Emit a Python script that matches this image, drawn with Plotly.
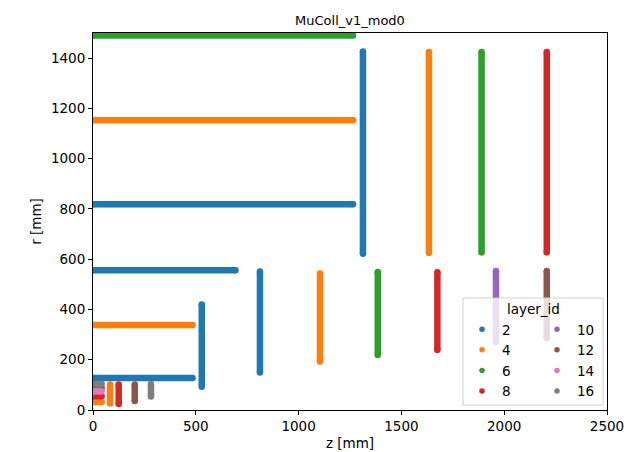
import plotly.graph_objects as go

# Hit positions per tracker layer, grouped by layer_id.
LAYER_IDS = [2, 4, 6, 8, 10, 12, 14, 16]
COLORS = ["#1f77b4", "#ff7f0e", "#2ca02c", "#d62728",
          "#9467bd", "#8c564b", "#e377c2", "#7f7f7f"]

# Barrel layers: hits at constant r, spread from z = 0 to z_max
BARREL_R = {2: [127, 556, 819], 4: [32, 338, 1153], 6: [1490], 8: [55],
            10: [], 12: [88], 14: [74], 16: [103]}
BARREL_ZMAX = {2: [484, 693, 1265], 4: [42, 484, 1265], 6: [1265], 8: [42],
               10: [], 12: [42], 14: [42], 16: [42]}

# Endcap disks: hits at constant z, spread from r_min to r_max
DISK_Z = {2: [529, 812, 1313], 4: [83, 1104, 1634], 6: [1385, 1890],
          8: [125, 1675, 2207], 10: [1960], 12: [203, 2207], 14: [], 16: [282]}
DISK_RMIN = {2: [93, 149, 622], 4: [26, 193, 625], 6: [219, 627],
             8: [24, 239, 627], 10: [272], 12: [36, 286], 14: [], 16: [54]}
DISK_RMAX = {2: [420, 551, 1426], 4: [101, 543, 1424], 6: [549, 1424],
             8: [101, 548, 1424], 10: [553], 12: [101, 553], 14: [], 16: [103]}

X_TICKS = [0, 500, 1000, 1500, 2000, 2500]
Y_TICKS = [0, 200, 400, 600, 800, 1000, 1200, 1400]

FONT = "DejaVu Sans"
W, H = 630, 452
L, R, T, B = 93, 23, 33, 42
PW, PH = W - L - R, H - T - B

fig = go.Figure()

for lid, col in zip(LAYER_IDS, COLORS):
    xs, ys = [], []
    for r, zmax in zip(BARREL_R[lid], BARREL_ZMAX[lid]):
        xs += [0, zmax, None]
        ys += [r, r, None]
    for z, rmin, rmax in zip(DISK_Z[lid], DISK_RMIN[lid], DISK_RMAX[lid]):
        xs += [z, z, None]
        ys += [rmin, rmax, None]
    fig.add_trace(go.Scatter(
        x=xs, y=ys, mode="lines+markers", connectgaps=False,
        line=dict(color=col, width=6.5),
        marker=dict(color=col, size=6.5),
        showlegend=False, hoverinfo="skip",
    ))

# legend entries: two columns of four
for i, (lid, col) in enumerate(zip(LAYER_IDS, COLORS)):
    fig.add_trace(go.Scatter(
        x=[None], y=[None], mode="markers", name=str(lid),
        marker=dict(color=col, size=5.5),
        legend="legend" if i < 4 else "legend2",
    ))


def px_x(p):
    return (p - L) / PW


def px_y(p):
    return (H - B - p) / PH


legend_common = dict(
    bgcolor="rgba(0,0,0,0)", borderwidth=0,
    font=dict(family=FONT, size=13.5, color="black"),
    xanchor="left", yanchor="top", tracegroupgap=0, itemwidth=30,
)

axis_common = dict(
    showgrid=False, zeroline=False, automargin=False,
    showline=True, linecolor="black", linewidth=1, mirror=True,
    ticks="outside", ticklen=4, tickwidth=1, tickcolor="black",
    tickfont=dict(family=FONT, size=13.5, color="black"),
)

fig.update_layout(
    width=W, height=H,
    margin=dict(l=L, r=R, t=T, b=B),
    paper_bgcolor="white", plot_bgcolor="white",
    font=dict(family=FONT, size=13.5, color="black"),
    title=dict(text="MuColl_v1_mod0", x=(L + PW / 2) / W, xanchor="center",
               y=1 - 20 / H, yanchor="middle",
               font=dict(family=FONT, size=13, color="black")),
    xaxis=dict(range=[0, 2500], tickvals=X_TICKS,
               title=dict(text="z [mm]", standoff=5,
                          font=dict(family=FONT, size=13.5)),
               **axis_common),
    yaxis=dict(range=[0, 1500], tickvals=Y_TICKS,
               title=dict(text="r [mm]", standoff=6,
                          font=dict(family=FONT, size=13.5)),
               **axis_common),
    legend=dict(x=px_x(462), y=px_y(314), **legend_common),
    legend2=dict(x=px_x(537), y=px_y(314), **legend_common),
)

# legend frame and title
fig.add_shape(type="rect", xref="paper", yref="paper", layer="above",
              x0=px_x(463), x1=px_x(603), y0=px_y(405), y1=px_y(298),
              fillcolor="rgba(255,255,255,0.8)",
              line=dict(color="#d0d0d0", width=1))
fig.add_annotation(text="layer_id", xref="paper", yref="paper",
                   x=px_x(533), y=px_y(309), showarrow=False,
                   xanchor="center", yanchor="middle",
                   font=dict(family=FONT, size=13.5, color="black"))

fig.write_html("out.html")
